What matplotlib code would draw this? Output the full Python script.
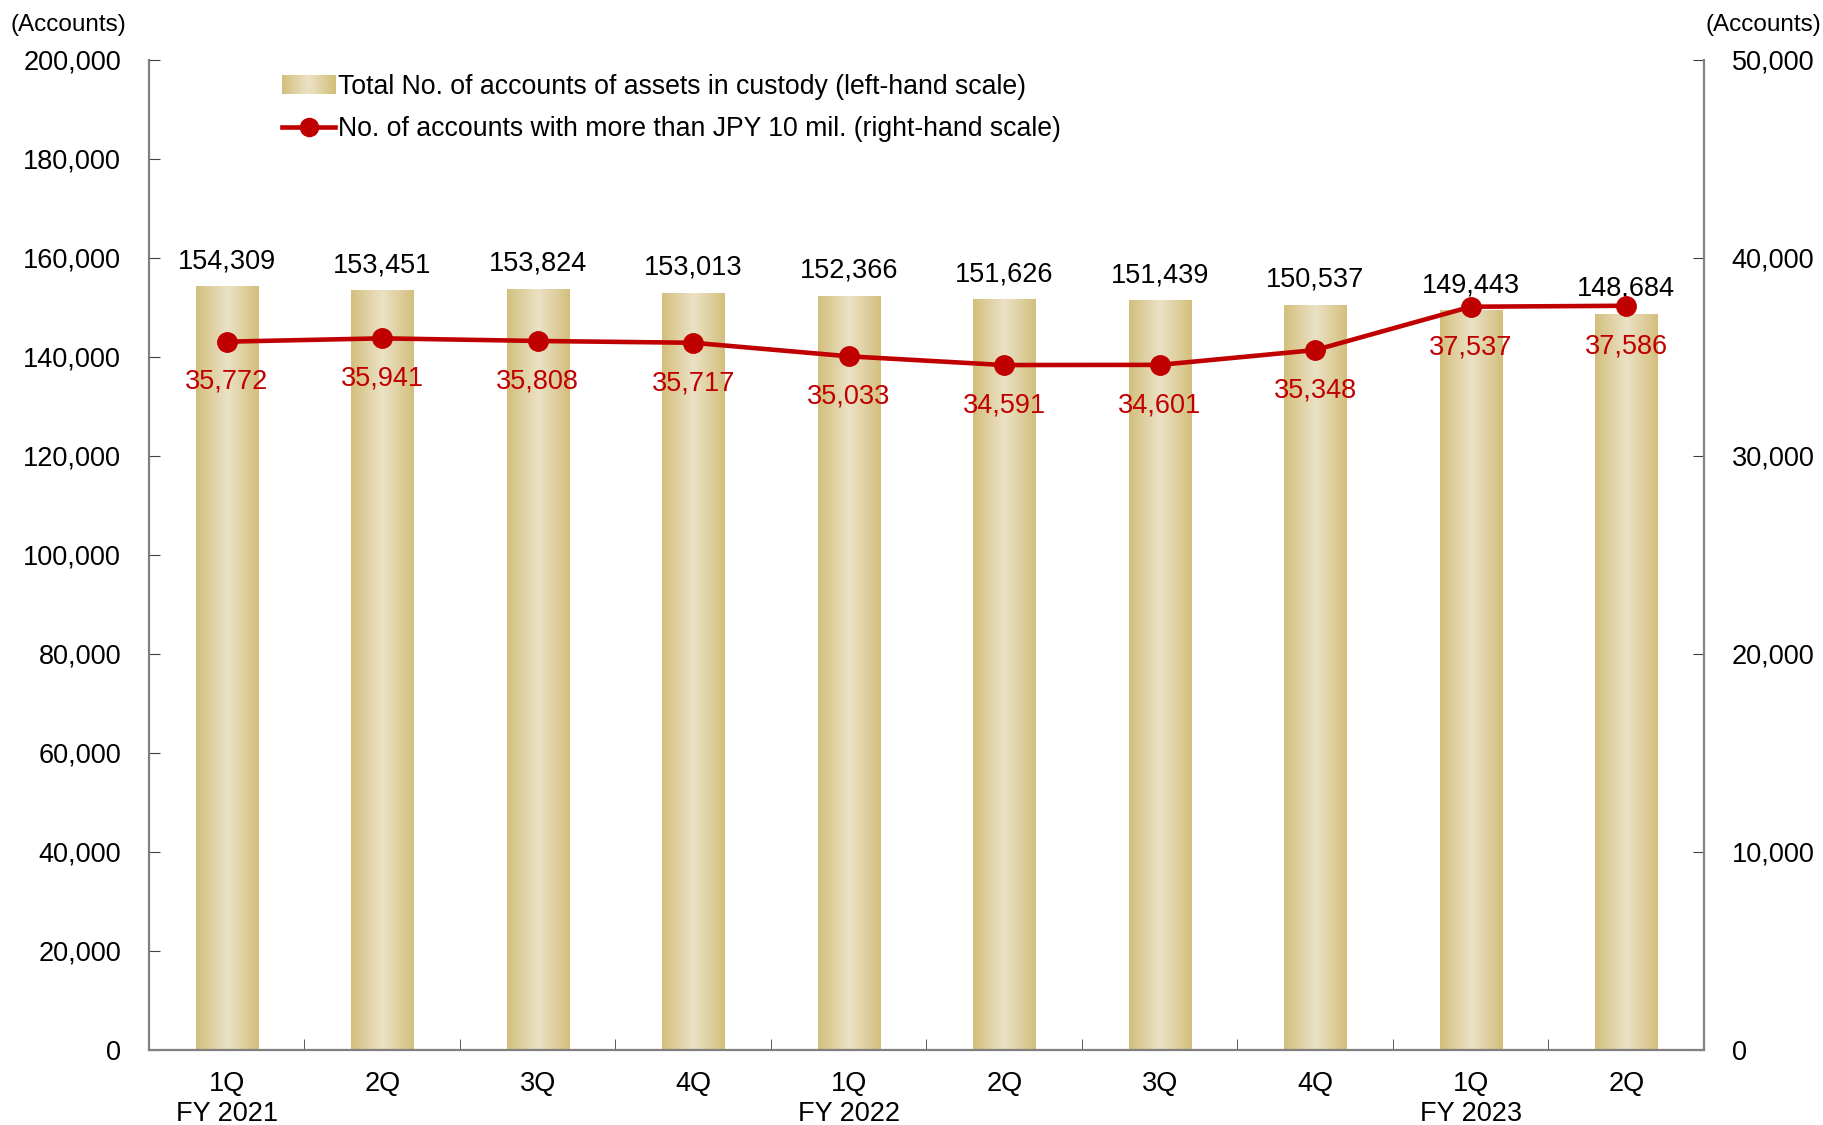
import numpy as np
import matplotlib.pyplot as plt
from matplotlib.colors import LinearSegmentedColormap
from matplotlib.patches import Rectangle
from matplotlib.lines import Line2D
from matplotlib.legend_handler import HandlerBase

plt.rcParams['font.family'] = ['Liberation Sans', 'DejaVu Sans']

quarters = ['1Q', '2Q', '3Q', '4Q', '1Q', '2Q', '3Q', '4Q', '1Q', '2Q']
fiscal_years = ['FY 2021', '', '', '', 'FY 2022', '', '', '', 'FY 2023', '']
total_accounts = [154309, 153451, 153824, 153013, 152366, 151626, 151439, 150537, 149443, 148684]
over_10mil = [35772, 35941, 35808, 35717, 35033, 34591, 34601, 35348, 37537, 37586]

gold = LinearSegmentedColormap.from_list('gold', ['#d3bf7c', '#ebe2c6', '#d3bf7c'])
red = '#c00000'
fs = 19.5

fig = plt.figure(figsize=(18.23, 11.25), dpi=100)
ax = fig.add_axes([0.0817, 0.0667, 0.853, 0.88])
ax2 = ax.twinx()

x = np.arange(len(quarters))
bars = ax.bar(x, total_accounts, width=0.4, color='none', edgecolor='none')
grad = np.linspace(0, 1, 256).reshape(1, -1)
for b in bars:
    x0, w, h = b.get_x(), b.get_width(), b.get_height()
    im = ax.imshow(grad, cmap=gold, aspect='auto', extent=[x0, x0 + w, 0, h], zorder=2)
    im.set_clip_path(b)
    ax.annotate(f'{h:,.0f}', (x0 + w / 2, h), xytext=(0, 18), textcoords='offset points',
                ha='center', va='center', fontsize=fs)

ax2.plot(x, over_10mil, color=red, lw=3.3, marker='o', ms=14, zorder=5)
for xi, v in zip(x, over_10mil):
    ax2.annotate(f'{v:,}', (xi, v), xytext=(0, -29), textcoords='offset points',
                 ha='center', va='center', fontsize=fs, color=red)

ax.set_xlim(-0.5, len(quarters) - 0.5)
ax.set_ylim(0, 200000)
ax2.set_ylim(0, 50000)
ax.set_yticks(np.arange(0, 200001, 20000))
ax2.set_yticks(np.arange(0, 50001, 10000))
ax.yaxis.set_major_formatter(lambda v, p: f'{v:,.0f}')
ax2.yaxis.set_major_formatter(lambda v, p: f'{v:,.0f}')

ax.set_xticks(x)
ax.set_xticklabels([q + ('\n' + f if f else '') for q, f in zip(quarters, fiscal_years)],
                   fontsize=fs, va='top', linespacing=1.2)
ax.tick_params(axis='x', length=0, pad=15)
ax.set_xticks(np.arange(-0.5, len(quarters), 1), minor=True)
ax.tick_params(axis='x', which='minor', direction='in', length=8, color='#404040')

for a in (ax, ax2):
    a.spines['top'].set_visible(False)
    a.tick_params(axis='y', direction='in', length=8, labelsize=fs, color='#404040', pad=20)
    for s in a.spines.values():
        s.set_color('#808080')
        s.set_linewidth(1.5)
ax.spines['bottom'].set_color('#404040')
ax.set_zorder(ax2.get_zorder() - 1)
ax2.patch.set_visible(False)
ax.patch.set_visible(False)

fig.text(0.006, 0.988, '(Accounts)', fontsize=17.5, ha='left', va='top')
fig.text(0.999, 0.988, '(Accounts)', fontsize=17.5, ha='right', va='top')


class GradientHandler(HandlerBase):
    def create_artists(self, legend, orig, xd, yd, width, height, fontsize, trans):
        n = 30
        arts = []
        for i in range(n):
            arts.append(Rectangle((xd + width * i / n, yd), width / n + 0.3, height,
                                  facecolor=gold(i / (n - 1)), edgecolor='none', transform=trans))
        return arts


bar_handle = Rectangle((0, 0), 1, 1)
line_handle = Line2D([], [], color=red, lw=3.3, marker='o', ms=13)
leg = ax2.legend([bar_handle, line_handle],
                 ['Total No. of accounts of assets in custody (left-hand scale)',
                  'No. of accounts with more than JPY 10 mil. (right-hand scale)'],
                 handler_map={bar_handle: GradientHandler()},
                 loc='upper left', bbox_to_anchor=(282 / 1823, 1 - 74 / 1125),
                 bbox_transform=fig.transFigure, borderaxespad=0, borderpad=0,
                 frameon=False, fontsize=19.2,
                 handlelength=2.0, handleheight=0.7, handletextpad=0.1, labelspacing=0.6)

fig.savefig('out.png', dpi=100)
